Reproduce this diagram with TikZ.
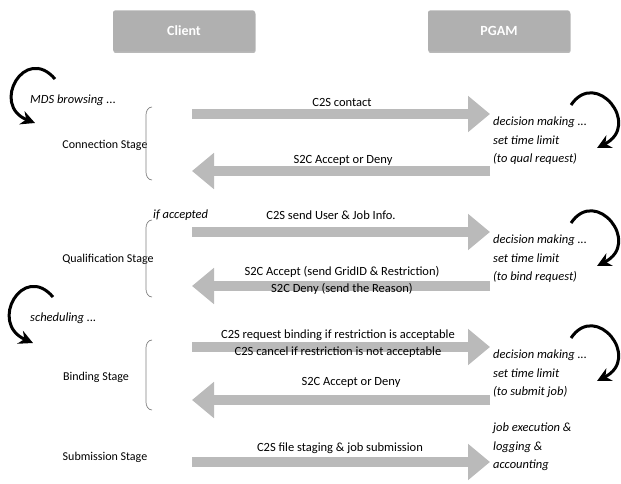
\documentclass[tikz,border=0pt]{standalone}
\usepackage{fontspec}
\setmainfont{Carlito}
\usetikzlibrary{arrows.meta, positioning, shadows}
\definecolor{boxgray}{RGB}{176,176,176}
\definecolor{arrgray}{RGB}{186,186,186}

\begin{document}
\begin{tikzpicture}[x=1pt,y=-1pt,
  party/.style={fill=boxgray, rounded corners=2pt, minimum width=142pt, minimum height=41pt, text=white,
    font=\fontsize{14}{16}\selectfont\bfseries, drop shadow={shadow xshift=0.5pt, shadow yshift=-1.5pt, fill=gray!90!black}},
  msg/.style={line width=10pt, arrgray, -{Triangle[length=22pt,width=35pt]}},
  lbl/.style={font=\fontsize{12.5}{17}\selectfont, align=center, inner sep=0pt},
  note/.style={font=\fontsize{12.5}{18.5}\selectfont\itshape, align=left, anchor=west, inner sep=0pt},
  stage/.style={font=\fontsize{12}{14}\selectfont, inner sep=0pt},
  loopar/.style={line width=3pt, -{Stealth[length=14pt,width=14pt]}},
  brk/.style={gray, line width=0.7pt}]
  \useasboundingbox (0,0) rectangle (621,484);
  % Parties
  \node[party] (client) at (184,31) {Client};
  \node[party] (pgam) at (499,31) {PGAM};
  % Connection stage
  \node[stage] (connstage) at (105,145) {Connection Stage};
  \node[note] (mds) at (30,100) {MDS browsing ...};
  \draw[loopar] (55,79) .. controls (25,44) and (-10,105) .. (35,123);
  \coordinate (c1s) at (192,114); \coordinate (c1e) at (490,114);
  \draw[msg] (c1s) -- (c1e);
  \node[lbl] (m1) at (342,102) {C2S contact};
  \coordinate (c2s) at (490,171); \coordinate (c2e) at (192,171);
  \draw[msg] (c2s) -- (c2e);
  \node[lbl] (m2) at (343,160) {S2C Accept or Deny};
  \node[note] (n1) at (493,141) {decision making ...\\set time limit\\(to qual request)};
  \draw[loopar] (571,105) .. controls (596,68) and (642,125) .. (597,148);
  \draw[brk] (152,107) to[out=180,in=90] (146,115) -- (146,172) to[out=-90,in=180] (152,180);
  % Qualification stage
  \node[stage] (qualstage) at (108,259) {Qualification Stage};
  \node[note] (ifacc) at (153,215) {if accepted};
  \coordinate (c3s) at (192,232); \coordinate (c3e) at (490,232);
  \draw[msg] (c3s) -- (c3e);
  \node[lbl] (m3) at (331,215) {C2S send User \& Job Info.};
  \coordinate (c4s) at (490,286); \coordinate (c4e) at (192,286);
  \draw[msg] (c4s) -- (c4e);
  \node[lbl] (m4) at (342,280) {S2C Accept (send GridID \& Restriction)\\S2C Deny (send the Reason)};
  \node[note] (n2) at (493,259) {decision making ...\\set time limit\\(to bind request)};
  \draw[loopar] (571,223) .. controls (596,186) and (642,243) .. (597,266);
  \draw[brk] (152,220) to[out=180,in=90] (146,228) -- (146,289) to[out=-90,in=180] (152,297);
  % Binding stage
  \node[stage] (bindstage) at (96,377) {Binding Stage};
  \node[note] (sched) at (30,318) {scheduling ...};
  \draw[loopar] (53,297) .. controls (23,262) and (-12,323) .. (33,343);
  \coordinate (c5s) at (192,347); \coordinate (c5e) at (490,347);
  \draw[msg] (c5s) -- (c5e);
  \node[lbl] (m5) at (338,344) {C2S request binding if restriction is acceptable\\C2S cancel if restriction is not acceptable};
  \coordinate (c6s) at (490,400); \coordinate (c6e) at (192,400);
  \draw[msg] (c6s) -- (c6e);
  \node[lbl] (m6) at (351,382) {S2C Accept or Deny};
  \node[note] (n3) at (493,374) {decision making ...\\set time limit\\(to submit job)};
  \draw[loopar] (571,338) .. controls (596,301) and (642,358) .. (597,381);
  \draw[brk] (152,340) to[out=180,in=90] (146,348) -- (146,402) to[out=-90,in=180] (152,410);
  % Submission stage
  \node[stage] (substage) at (105,457) {Submission Stage};
  \coordinate (c7s) at (192,462); \coordinate (c7e) at (490,462);
  \draw[msg] (c7s) -- (c7e);
  \node[lbl] (m7) at (340,448) {C2S file staging \& job submission};
  \node[note] (n4) at (493,447) {job execution \&\\logging \&\\accounting};
\end{tikzpicture}
\end{document}
